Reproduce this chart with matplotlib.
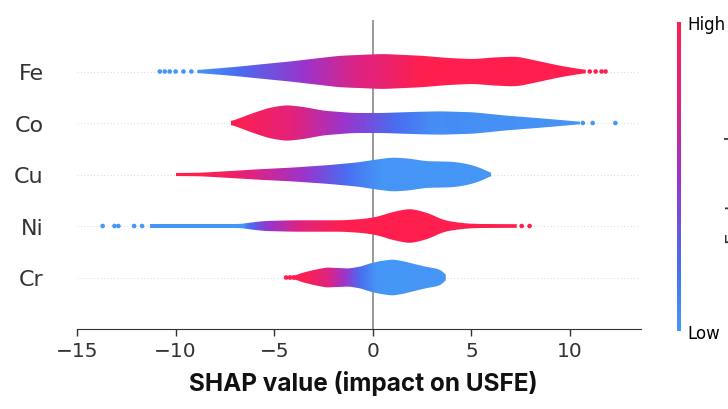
import numpy as np
import matplotlib
matplotlib.use("Agg")
import matplotlib.pyplot as plt
from matplotlib.colors import LinearSegmentedColormap, Normalize
from matplotlib.patches import Polygon
from matplotlib.cm import ScalarMappable

# features, top to bottom
features = ["Fe", "Co", "Cu", "Ni", "Cr"]

# violin outline: SHAP value -> density
fe_x = [-8.9, -7.0, -5.5, -4.2, -1.7, 0.5, 2.5, 3.8, 5.1, 6.1, 7.3, 8.5, 9.5, 10.8]
fe_d = [1.5, 4.5, 7.5, 10, 15.7, 17.5, 15.7, 13.5, 12.3, 14, 15, 10, 5.7, 1.5]
co_x = [-7.2, -6.8, -6.2, -5.3, -4.4, -3.5, -2.5, -1.0, 0.5, 2.0, 3.4, 5.1, 6.8, 8.5, 10.1, 10.5]
co_d = [1.5, 4.5, 9, 15, 18, 16, 12.3, 10, 10, 11, 11.7, 10.7, 7.3, 4.7, 2, 1.2]
cu_x = [-10.0, -8.7, -7.2, -5.7, -4.0, -2.3, -0.8, 0.2, 1.0, 1.8, 2.7, 3.5, 4.1, 4.8, 5.3, 5.7, 6.0]
cu_d = [1.5, 1.8, 3.5, 5.3, 7, 9.3, 12, 15, 17, 16, 13.3, 13, 12.7, 10.5, 7.7, 4.5, 1]
ni_x = [-11.3, -6.6, -6.4, -5.5, -4.0, -2.5, -1.5, -0.5, 0.2, 1.0, 1.9, 2.8, 3.6, 4.3, 4.9, 5.5, 7.3]
ni_d = [2.0, 2.0, 3.0, 5.0, 5.7, 5.7, 5.7, 7, 9, 14, 17.5, 13, 5.7, 3.5, 2.3, 2.0, 1.8]
cr_x = [-4.45, -3.9, -3.7, -3.0, -2.35, -1.8, -1.2, -0.6, -0.15, 0.4, 1.0, 1.5, 2.0, 2.7, 3.2, 3.5, 3.7]
cr_d = [1.5, 2, 4, 7.5, 10, 9.5, 9, 11, 14, 16.5, 18, 16.5, 14, 10.7, 9, 7, 2]

# mean feature value along x (0 = low, 1 = high)
fe_cx = [-11.3, -8.9, -6.5, -4.0, -1.5, 0.5, 2.5, 12]
fe_cv = [0.0, 0.0, 0.25, 0.45, 0.68, 0.82, 1.0, 1.0]
co_cx = [-7.2, -5.8, -4.4, -2.5, -1.0, 1.3, 3.0, 12.5]
co_cv = [1.0, 0.9, 0.8, 0.6, 0.45, 0.2, 0.05, 0.0]
cu_cx = [-10.0, -8.7, -7.5, -5.7, -3.5, -2.0, -0.5, 0.5, 6.0]
cu_cv = [1.0, 1.0, 0.9, 0.7, 0.5, 0.3, 0.1, 0.0, 0.0]
ni_cx = [-11.3, -6.6, -6.4, -5.5, -3.7, -2.0, -1.0, 8.0]
ni_cv = [0.0, 0.0, 0.15, 0.45, 0.75, 0.95, 1.0, 1.0]
cr_cx = [-4.45, -3.3, -2.3, -1.4, -0.6, 0.2, 3.7]
cr_cv = [1.0, 0.95, 0.75, 0.5, 0.2, 0.0, 0.0]

# outlier points
fe_dots = [-10.8, -10.55, -10.3, -10.0, -9.6, -9.2, 11.0, 11.3, 11.6, 11.8]
fe_dotc = [0, 0, 0, 0, 0, 0, 1, 1, 1, 1]
co_dots = [10.65, 11.15, 12.3]
co_dotc = [0, 0, 0]
cu_dots = []
cu_dotc = []
ni_dots = [-13.7, -13.1, -12.9, -12.1, -11.7, 7.55, 7.95]
ni_dotc = [0, 0, 0, 0, 0, 1, 1]
cr_dots = [-4.4, -4.2, -4.0]
cr_dotc = [1, 1, 1]

prof = [(fe_x, fe_d, fe_cx, fe_cv, fe_dots, fe_dotc),
        (co_x, co_d, co_cx, co_cv, co_dots, co_dotc),
        (cu_x, cu_d, cu_cx, cu_cv, cu_dots, cu_dotc),
        (ni_x, ni_d, ni_cx, ni_cv, ni_dots, ni_dotc),
        (cr_x, cr_d, cr_cx, cr_cv, cr_dots, cr_dotc)]

cmap = LinearSegmentedColormap.from_list(
    "shap_rb", [(0, "#4596f6"), (0.22, "#4a6cf0"), (0.5, "#9b34cc"),
                (0.75, "#e0237f"), (1.0, "#ff1f4f")])

fig = plt.figure(figsize=(7.28, 4.10), dpi=100)
ax = fig.add_axes([77/728, 1-330/410, (641-77)/728, (330-21)/410])

n = len(features)
for i, (xs, ds, cx, cv, dots, dotc) in enumerate(prof):
    y = n - 1 - i
    ax.axhline(y, color="#cccccc", lw=0.6, dashes=(1, 3), zorder=-2)
    grid = np.linspace(xs[0], xs[-1], 500)
    w = np.interp(grid, xs, ds)
    # smooth the outline a bit
    k = np.exp(-0.5*(np.arange(-15, 16)/6.0)**2)
    k /= k.sum()
    wp = np.concatenate([np.full(15, w[0]), w, np.full(15, w[-1])])
    w = np.convolve(wp, k, mode="valid")
    w = w/18.0*0.35
    verts = np.concatenate([np.c_[grid, y + w], np.c_[grid[::-1], y - w[::-1]]])
    poly = Polygon(verts, closed=True, facecolor="none", edgecolor="none")
    ax.add_patch(poly)
    cols = cmap(np.interp(grid, cx, cv))[None, :, :]
    im = ax.imshow(cols, extent=[grid[0], grid[-1], y-0.45, y+0.45],
                   aspect="auto", interpolation="bilinear", zorder=2)
    im.set_clip_path(poly)
    if len(dots):
        ax.scatter(dots, [y]*len(dots), c=cmap(np.array(dotc, float)),
                   s=11, lw=0, zorder=3)

ax.axvline(0, color="#999999", lw=1.4, zorder=-1)
ax.set_xlim(-15, 13.6)
ax.set_ylim(-1, n)
ax.set_yticks(range(n))
ax.set_yticklabels(features[::-1], fontsize=16, color="#333333")
ax.tick_params(axis="y", length=0, pad=24)
ax.set_xticks([-15, -10, -5, 0, 5, 10])
ax.tick_params(axis="x", labelsize=14.5, colors="#333333", length=5, width=1)
for s in ["top", "right", "left"]:
    ax.spines[s].set_visible(False)
ax.spines["bottom"].set_color("#333333")

fig.text(363/728, 1-384/410, "SHAP value (impact on USFE)", ha="center",
         va="center", fontsize=17.5, fontweight="bold", family="Inter", color="#111111")

cax = fig.add_axes([677/728, 1-332/410, 3.5/728, (332-23)/410])
cb = fig.colorbar(ScalarMappable(norm=Normalize(0, 1), cmap=cmap), cax=cax)
cb.outline.set_visible(False)
cb.set_ticks([0, 1])
cb.set_ticklabels(["Low", "High"])
cax.tick_params(length=0, labelsize=12, pad=5)
# label sits mostly past the right edge, as in the source image
fig.text(725/728, 1-178/410, "Feature value", rotation=90, ha="left",
         va="center", fontsize=14, color="#333333")

fig.savefig("out.png", dpi=100)
